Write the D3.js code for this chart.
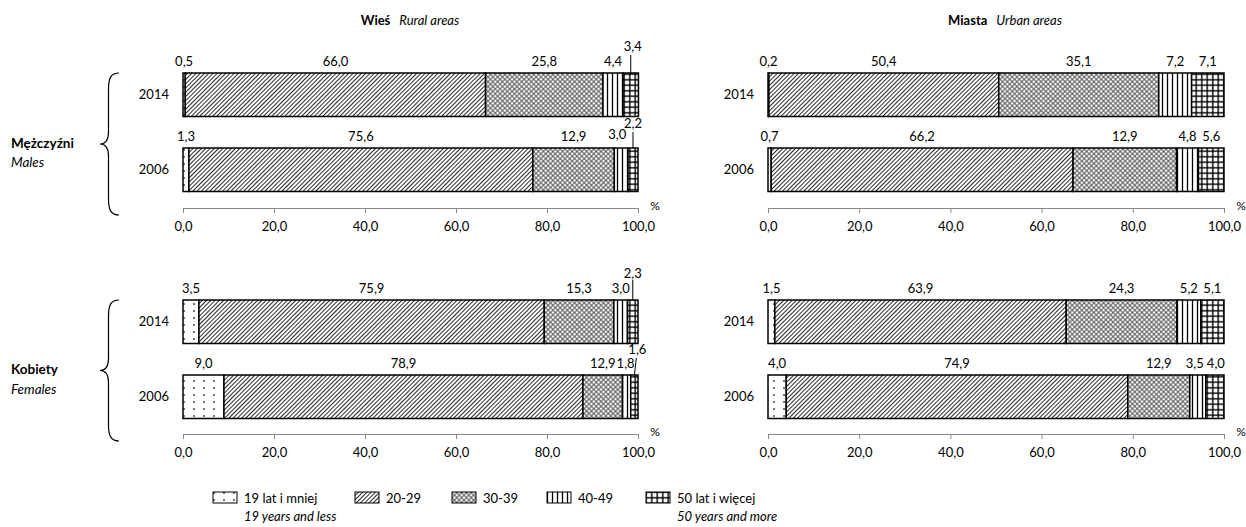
<!DOCTYPE html>
<html><head><meta charset="utf-8">
<script src="https://cdn.jsdelivr.net/npm/d3@7"></script>
<style>body{margin:0;background:#fff;} svg{display:block;font-family:Lato, sans-serif;}</style>
</head><body><svg id="c" width="1246" height="527"></svg>
<script>
// ---------------- DATA ----------------
const areas = ["Wieś", "Miasta"];
const areasEn = ["Rural areas", "Urban areas"];
const sexes = ["Mężczyźni", "Kobiety"];
const sexesEn = ["Males", "Females"];
const years = ["2014", "2006"];
const ageGroups = ["19 lat i mniej", "20-29", "30-39", "40-49", "50 lat i więcej"];
const ageGroupsEn = ["19 years and less", "", "", "", "50 years and more"];
const tickValues = [0, 20, 40, 60, 80, 100];

// segment widths (%) as drawn
const ruralMales2014 = [0.5, 66.0, 25.8, 4.4, 3.4];
const ruralMales2006 = [1.3, 75.6, 17.9, 3.0, 2.2];
const ruralFemales2014 = [3.5, 75.9, 15.3, 3.0, 2.3];
const ruralFemales2006 = [9.0, 78.9, 8.7, 1.8, 1.6];
const urbanMales2014 = [0.2, 50.4, 35.1, 7.2, 7.1];
const urbanMales2006 = [0.7, 66.2, 22.7, 4.8, 5.6];
const urbanFemales2014 = [1.5, 63.9, 24.3, 5.2, 5.1];
const urbanFemales2006 = [4.0, 74.9, 13.6, 3.5, 4.0];

// labels as printed in the source (2006 rows show 12,9 for 30-39)
const ruralMales2006Labels = ["1,3", "75,6", "12,9", "3,0", "2,2"];
const ruralFemales2006Labels = ["9,0", "78,9", "12,9", "1,8", "1,6"];
const urbanMales2006Labels = ["0,7", "66,2", "12,9", "4,8", "5,6"];
const urbanFemales2006Labels = ["4,0", "74,9", "12,9", "3,5", "4,0"];

// ---------------- LAYOUT ----------------
const fmt = d => d.toFixed(1).replace(".", ",");
const svg = d3.select("#c");
const panelX = [[183, 638], [768, 1224]];
const sexTop = [73, 300];
const axisY = [208, 434];
const titleX = [410, 1005];

const dataByArea = [
  [[[ruralMales2014, null], [ruralMales2006, ruralMales2006Labels]],
   [[ruralFemales2014, null], [ruralFemales2006, ruralFemales2006Labels]]],
  [[[urbanMales2014, null], [urbanMales2006, urbanMales2006Labels]],
   [[urbanFemales2014, null], [urbanFemales2006, urbanFemales2006Labels]]]
];

// callouts: key area-sex-yearIndex-segment
const callouts = {
  "0-0-0-4": {dx: 2, dy: -22, line: [-18, 0], ldx: 0},
  "0-0-1-4": {dx: 0, dy: -20, line: [-16, 0], ldx: 0},
  "0-0-1-3": {dx: -4, dy: -9, line: null},
  "0-1-0-4": {dx: 0, dy: -22, line: [-20, 0], ldx: 0},
  "0-1-1-4": {dx: 3, dy: -21, line: [-17, 0], ldx: 2},
  "0-1-1-3": {dx: -1, dy: -7, line: null},
  "1-1-1-3": {dx: -3, dy: -7, line: null},
  "1-1-1-4": {dx: 1, dy: -7, line: null}
};

// ---------------- PATTERNS ----------------
const defs = svg.append("defs");
function pat(id, w, h, tf) {
  const p = defs.append("pattern").attr("id", id).attr("patternUnits", "userSpaceOnUse")
    .attr("width", w).attr("height", h);
  if (tf) p.attr("patternTransform", tf);
  p.append("rect").attr("width", w).attr("height", h).attr("fill", "#fff");
  return p;
}
let p;
p = pat("p0", 10, 7);
p.append("circle").attr("cx", 4).attr("cy", 3).attr("r", 0.9).attr("fill", "#333");
p = pat("p1", 3, 3, "rotate(45)");
p.append("line").attr("x1", 1.5).attr("x2", 1.5).attr("y1", 0).attr("y2", 3).attr("stroke", "#2a2a2a").attr("stroke-width", 1.05);
p = pat("p2", 3.4, 3.4, "rotate(45)");
p.append("line").attr("x1", 1.7).attr("x2", 1.7).attr("y1", 0).attr("y2", 3.4).attr("stroke", "#444").attr("stroke-width", 0.9);
p.append("line").attr("y1", 1.7).attr("y2", 1.7).attr("x1", 0).attr("x2", 3.4).attr("stroke", "#444").attr("stroke-width", 0.9);
p = pat("p3", 5, 5);
p.append("line").attr("x1", 2.5).attr("x2", 2.5).attr("y1", 0).attr("y2", 5).attr("stroke", "#000").attr("stroke-width", 1.3);
p = pat("p4", 5.5, 5.5);
p.append("line").attr("x1", 2.75).attr("x2", 2.75).attr("y1", 0).attr("y2", 5.5).attr("stroke", "#000").attr("stroke-width", 1.4);
p.append("line").attr("y1", 2.75).attr("y2", 2.75).attr("x1", 0).attr("x2", 5.5).attr("stroke", "#000").attr("stroke-width", 1.4);

// ---------------- TITLES ----------------
areas.forEach((a, i) => {
  const t = svg.append("text").attr("x", titleX[i]).attr("y", 25).attr("text-anchor", "middle")
    .attr("font-size", 13).attr("fill", "#000");
  t.append("tspan").attr("font-weight", "bold").text(a);
  t.append("tspan").attr("font-style", "italic").attr("dx", 9).text(areasEn[i]);
});

// ---------------- SIDE LABELS + BRACES ----------------
sexes.forEach((s, si) => {
  const top = sexTop[si], bot = axisY[si] + 7, mid = (top + bot) / 2;
  svg.append("text").attr("x", 11).attr("y", mid + 3.5).attr("font-size", 13.5).attr("font-weight", "bold").text(s);
  svg.append("text").attr("x", 11).attr("y", mid + 23).attr("font-size", 13.5).attr("font-style", "italic").text(sexesEn[si]);
  const path = d3.path();
  path.moveTo(119, top);
  path.bezierCurveTo(111, top, 108.5, top + 5, 108.5, top + 16);
  path.lineTo(108.5, mid - 12);
  path.bezierCurveTo(108.5, mid - 3, 105, mid, 100, mid);
  path.bezierCurveTo(105, mid, 108.5, mid + 3, 108.5, mid + 12);
  path.lineTo(108.5, bot - 16);
  path.bezierCurveTo(108.5, bot - 5, 111, bot, 119, bot);
  svg.append("path").attr("d", path.toString()).attr("fill", "none").attr("stroke", "#000").attr("stroke-width", 1.2);
});

// ---------------- PANELS ----------------
areas.forEach((a, ai) => {
  const x = d3.scaleLinear().domain([0, 100]).range(panelX[ai]);
  sexes.forEach((s, si) => {
    const y = d3.scaleBand().domain(years).range([sexTop[si], sexTop[si] + 118.5]).paddingInner(0.42).paddingOuter(0);
    const g = svg.append("g");
    years.forEach((yr, yi) => {
      const [vals, labs] = dataByArea[ai][si][yi];
      let cum = 0;
      const segs = vals.map((v, i) => { const s0 = cum; cum += v; return {i, v, s0, s1: cum, lab: labs ? labs[i] : fmt(v)}; });
      g.selectAll(null).data(segs).enter().append("rect")
        .attr("x", d => x(d.s0)).attr("y", y(yr))
        .attr("width", d => x(d.s1) - x(d.s0)).attr("height", y.bandwidth())
        .attr("fill", d => `url(#p${d.i})`).attr("stroke", "#000").attr("stroke-width", 1.5);
      g.append("text").attr("x", panelX[ai][0] - 14).attr("y", y(yr) + y.bandwidth() / 2 + 4.5)
        .attr("text-anchor", "end").attr("font-size", 13).text(yr);
      segs.forEach(d => {
        const key = `${ai}-${si}-${yi}-${d.i}`;
        const c = callouts[key];
        const cx = x((d.s0 + d.s1) / 2);
        const top = y(yr);
        g.append("text").attr("x", cx + (c ? c.dx : 0)).attr("y", top + (c ? c.dy : -7))
          .attr("text-anchor", "middle").attr("font-size", 13).text(d.lab);
        if (c && c.line) {
          g.append("line").attr("x1", cx + c.ldx).attr("x2", cx).attr("y1", top + c.line[0]).attr("y2", top + c.line[1])
            .attr("stroke", "#000").attr("stroke-width", 1);
        }
      });
    });
    const ax = svg.append("g").attr("transform", `translate(0,${axisY[si]})`)
      .call(d3.axisBottom(x).tickValues(tickValues).tickSize(5).tickSizeOuter(0).tickPadding(9).tickFormat(fmt));
    ax.select(".domain").attr("stroke", "#8a8a8a");
    ax.selectAll(".tick line").attr("stroke", "#8a8a8a");
    ax.selectAll(".tick text").attr("font-size", 13).attr("font-family", "Lato, sans-serif").attr("fill", "#000");
    svg.append("text").attr("x", panelX[ai][1] + 17).attr("y", axisY[si] + 2).attr("text-anchor", "middle")
      .attr("font-size", 12).text("%");
  });
});

// ---------------- LEGEND ----------------
const legX = [213, 355, 452, 547, 646];
ageGroups.forEach((lab, i) => {
  svg.append("rect").attr("x", legX[i]).attr("y", 492).attr("width", 24).attr("height", 11)
    .attr("fill", `url(#p${i})`).attr("stroke", "#000").attr("stroke-width", 1);
  svg.append("text").attr("x", legX[i] + 31).attr("y", 502.5).attr("font-size", 13).text(lab);
  if (ageGroupsEn[i]) {
    svg.append("text").attr("x", legX[i] + 31).attr("y", 520.5).attr("font-size", 13).attr("font-style", "italic").text(ageGroupsEn[i]);
  }
});
</script>
</body></html>
